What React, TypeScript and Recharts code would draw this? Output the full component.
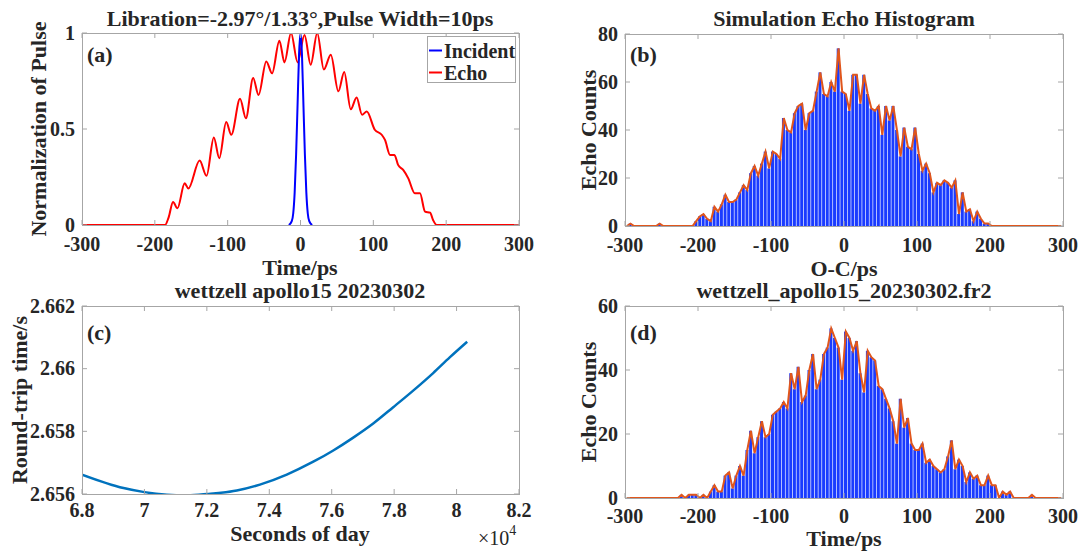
import React from "react";
import { LineChart, Line, ComposedChart, Bar, XAxis, YAxis } from "recharts";

const W = 1080;
const H = 551;
const FONT = '"Liberation Serif", "Times New Roman", serif';
const AXIS = "#a6a6a6";
const INK = "#262626";

// (a) pulse shapes (time in ps, normalised amplitude)
const echoT = [-300, -186, -181, -175, -169, -159, -154, -138.5, -129, -119, -111.5, -102, -95, -83, -75, -65, -57.6, -47, -39, -29, -22, -13, -4, 5.5, 14, 23, 32, 41.6, 52, 60, 69, 77, 84.5, 91, 102, 111.5, 116, 123, 129, 134, 141, 148, 157, 164, 171, 178, 182, 187, 300];
const echoV = [0, 0, 0.04, 0.12, 0.087, 0.217, 0.19, 0.336, 0.256, 0.456, 0.348, 0.536, 0.47, 0.657, 0.556, 0.765, 0.677, 0.852, 0.79, 0.96, 0.847, 1.0, 0.847, 0.99, 0.835, 1.0, 0.81, 0.887, 0.696, 0.797, 0.603, 0.664, 0.574, 0.591, 0.496, 0.47, 0.443, 0.365, 0.365, 0.313, 0.287, 0.243, 0.165, 0.165, 0.07, 0.064, 0.026, 0, 0];
const incT = [-16, -12, -10, -8, -6, -4, -2, 0, 2, 4, 6, 8, 10, 12, 16];
const incV = [0, 0.02, 0.06, 0.17, 0.37, 0.63, 0.89, 1, 0.89, 0.63, 0.37, 0.17, 0.06, 0.02, 0];

const timeTicks = [-300, -200, -100, 0, 100, 200, 300];
const normTicks = [0, 0.5, 1];

// (b) simulated echo histogram, 5 ps bins, first centre at -297.5
const firstBin = -297.5;
const binWidth = 5;
const simCounts = [
  0, 1, 0, 0, 0, 0, 0, 0, 0, 1,
  0, 0, 0, 0, 0, 0, 0, 0, 0, 2,
  4, 5, 3, 2, 8, 6, 9, 13, 10, 10,
  11, 14, 17, 15, 22, 25, 21, 26, 31, 24,
  31, 30, 28, 45, 40, 39, 47, 50, 51, 40,
  47, 48, 56, 64, 55, 54, 60, 56, 74, 56,
  55, 48, 63, 63, 51, 63, 55, 49, 48, 50,
  38, 50, 44, 50, 40, 29, 41, 33, 32, 41,
  30, 23, 26, 22, 14, 18, 17, 19, 18, 16,
  19, 5, 14, 6, 7, 2, 6, 3, 1, 1,
  0, 0, 0, 0, 0, 0, 0, 0, 0, 0,
  0, 0, 0, 0, 0, 0, 0, 0, 0, 0,
];
const simTicks = [0, 20, 40, 60, 80];

// (c) round-trip time vs seconds of day
const sodX = [68000, 69330, 70000, 70720, 71360, 72000, 72960, 73700, 74560, 75410, 76050, 76690, 77330, 77970, 78610, 79250, 79780, 80340];
const rttY = [2.65662, 2.65619, 2.65606, 2.65598, 2.65596, 2.656, 2.65611, 2.6563, 2.65662, 2.65703, 2.65739, 2.6578, 2.65825, 2.65877, 2.6593, 2.65986, 2.66036, 2.66086];
const sodTicks = [68000, 70000, 72000, 74000, 76000, 78000, 80000, 82000];
const rttTicks = [2.656, 2.658, 2.66, 2.662];

// (d) observed histogram, same bins as (b)
const obsCounts = [
  0, 0, 0, 0, 0, 0, 0, 0, 0, 0,
  0, 0, 0, 0, 0, 1, 0, 1, 1, 1,
  0, 1, 0, 2, 4, 2, 2, 7, 8, 3,
  7, 10, 7, 15, 21, 14, 19, 24, 19, 20,
  26, 27, 28, 30, 28, 39, 34, 41, 30, 32,
  40, 45, 34, 37, 45, 47, 53, 50, 47, 37,
  52, 50, 46, 49, 39, 33, 46, 44, 43, 35,
  34, 31, 28, 24, 17, 31, 22, 25, 17, 15,
  15, 17, 11, 12, 10, 9, 8, 9, 13, 18,
  9, 12, 10, 5, 8, 6, 7, 4, 4, 7,
  4, 4, 0, 2, 1, 2, 0, 0, 0, 0,
  0, 1, 0, 0, 0, 0, 0, 0, 0, 0,
];
const obsTicks = [0, 20, 40, 60];

const echoData = echoT.map((x, i) => ({ x, y: echoV[i] }));
const incData = incT.map((x, i) => ({ x, y: incV[i] }));
const binned = (counts: number[]) => counts.map((y, i) => ({ x: firstBin + i * binWidth, y }));
const simData = binned(simCounts);
const obsData = binned(obsCounts);
const rttData = sodX.map((x, i) => ({ x, y: rttY[i] }));

type Box = { left: number; right: number; top: number; bottom: number; lab: number };
const A: Box = { left: 82, right: 519, top: 33, bottom: 225, lab: 25.5 };
const B: Box = { left: 625, right: 1063, top: 34, bottom: 226, lab: 25.5 };
const C: Box = { left: 82, right: 519, top: 306, bottom: 494, lab: 23 };
const D: Box = { left: 625, right: 1063, top: 306, bottom: 498, lab: 25 };

const margin = (b: Box) => ({ left: b.left - 60, top: b.top, right: W - b.right, bottom: H - b.bottom - 30 });

const txt = { fontFamily: FONT, fontWeight: "bold" as const, fill: INK };

const xTick = (b: Box, fmt = (v: number) => String(v)) => (p: any) => (
  <g>
    <line x1={p.x} x2={p.x} y1={b.bottom} y2={b.bottom - 5} stroke={AXIS} />
    <line x1={p.x} x2={p.x} y1={b.top} y2={b.top + 5} stroke={AXIS} />
    <text x={p.x} y={b.bottom + b.lab} textAnchor="middle" fontSize={20} {...txt}>
      {fmt(p.payload.value)}
    </text>
  </g>
);

const yTick = (b: Box) => (p: any) => (
  <g>
    <line x1={b.left} x2={b.left + 5} y1={p.y} y2={p.y} stroke={AXIS} />
    <line x1={b.right} x2={b.right - 5} y1={p.y} y2={p.y} stroke={AXIS} />
    <text x={b.left - 7} y={p.y + 6.5} textAnchor="end" fontSize={20} {...txt}>
      {String(p.payload.value)}
    </text>
  </g>
);

const layer: React.CSSProperties = { position: "absolute", left: 0, top: 0 };

export default function App() {
  const axisCommon = { tickLine: false, axisLine: false, interval: 0 as const, allowDataOverflow: true };
  return (
    <div style={{ position: "absolute", left: 0, top: 0, width: W, height: H, background: "#fff" }}>
      <div style={layer}>
        <LineChart width={W} height={H} margin={margin(A)}>
          <XAxis type="number" dataKey="x" domain={[-300, 300]} ticks={timeTicks} height={30} tick={xTick(A)} {...axisCommon} />
          <YAxis type="number" domain={[0, 1]} ticks={normTicks} width={60} tick={yTick(A)} {...axisCommon} />
          <Line data={echoData} dataKey="y" type="monotone" stroke="#ff0000" strokeWidth={2} dot={false} isAnimationActive={false} />
          <Line data={incData} dataKey="y" type="monotone" stroke="#0000ff" strokeWidth={2} dot={false} isAnimationActive={false} />
        </LineChart>
      </div>
      <div style={layer}>
        <ComposedChart width={W} height={H} margin={margin(B)} data={simData}>
          <XAxis type="number" dataKey="x" domain={[-300, 300]} ticks={timeTicks} height={30} tick={xTick(B)} {...axisCommon} />
          <YAxis type="number" domain={[0, 80]} ticks={simTicks} width={60} tick={yTick(B)} {...axisCommon} />
          <Bar dataKey="y" fill="#1a3bff" barSize={3} isAnimationActive={false} />
          <Line dataKey="y" type="linear" stroke="#e0561c" strokeWidth={2} dot={false} isAnimationActive={false} />
        </ComposedChart>
      </div>
      <div style={layer}>
        <LineChart width={W} height={H} margin={margin(C)} data={rttData}>
          <XAxis type="number" dataKey="x" domain={[68000, 82000]} ticks={sodTicks} height={30} tick={xTick(C, (v) => String(v / 10000))} {...axisCommon} />
          <YAxis type="number" domain={[2.656, 2.662]} ticks={rttTicks} width={60} tick={yTick(C)} {...axisCommon} />
          <Line dataKey="y" type="monotone" stroke="#0072bd" strokeWidth={2.5} dot={false} isAnimationActive={false} />
        </LineChart>
      </div>
      <div style={layer}>
        <ComposedChart width={W} height={H} margin={margin(D)} data={obsData}>
          <XAxis type="number" dataKey="x" domain={[-300, 300]} ticks={timeTicks} height={30} tick={xTick(D)} {...axisCommon} />
          <YAxis type="number" domain={[0, 60]} ticks={obsTicks} width={60} tick={yTick(D)} {...axisCommon} />
          <Bar dataKey="y" fill="#1a3bff" barSize={3} isAnimationActive={false} />
          <Line dataKey="y" type="linear" stroke="#e0561c" strokeWidth={2} dot={false} isAnimationActive={false} />
        </ComposedChart>
      </div>

      <svg width={W} height={H} style={{ ...layer, pointerEvents: "none" }}>
        {[A, B, C, D].map((b, i) => (
          <rect key={i} x={b.left + 0.5} y={b.top + 0.5} width={b.right - b.left} height={b.bottom - b.top} fill="none" stroke={AXIS} />
        ))}

        {/* titles */}
        <text x={300} y={26} textAnchor="middle" fontSize={22} {...txt}>Libration=-2.97°/1.33°,Pulse Width=10ps</text>
        <text x={844} y={26} textAnchor="middle" fontSize={22} {...txt}>Simulation Echo Histogram</text>
        <text x={300} y={298} textAnchor="middle" fontSize={22} {...txt}>wettzell apollo15 20230302</text>
        <text x={844} y={298} textAnchor="middle" fontSize={22} {...txt}>wettzell_apollo15_20230302.fr2</text>

        {/* x labels */}
        <text x={300} y={275} textAnchor="middle" fontSize={22} {...txt}>Time/ps</text>
        <text x={844} y={276} textAnchor="middle" fontSize={22} {...txt}>O-C/ps</text>
        <text x={300} y={541} textAnchor="middle" fontSize={22} {...txt}>Seconds of day</text>
        <text x={844} y={546} textAnchor="middle" fontSize={22} {...txt}>Time/ps</text>
        <text x={478} y={545} fontSize={20} fontFamily={FONT} fill={INK}>
          ×10<tspan dy={-10} fontSize={14}>4</tspan>
        </text>

        {/* y labels */}
        <text transform="translate(46,129) rotate(-90)" textAnchor="middle" fontSize={22} {...txt}>Normalization of Pulse</text>
        <text transform="translate(596,130) rotate(-90)" textAnchor="middle" fontSize={22} {...txt}>Echo Counts</text>
        <text transform="translate(27,400) rotate(-90)" textAnchor="middle" fontSize={22} {...txt}>Round-trip time/s</text>
        <text transform="translate(596,402) rotate(-90)" textAnchor="middle" fontSize={22} {...txt}>Echo Counts</text>

        {/* panel tags */}
        <text x={87} y={62} fontSize={22} {...txt}>(a)</text>
        <text x={630} y={62} fontSize={22} {...txt}>(b)</text>
        <text x={87} y={340} fontSize={22} {...txt}>(c)</text>
        <text x={630} y={340} fontSize={22} {...txt}>(d)</text>

        {/* legend of (a) */}
        <rect x={427.5} y={36.5} width={88} height={46} fill="#fff" stroke={AXIS} />
        <line x1={429} x2={442} y1={50.5} y2={50.5} stroke="#0000ff" strokeWidth={2} />
        <line x1={429} x2={442} y1={72.5} y2={72.5} stroke="#ff0000" strokeWidth={2} />
        <text x={444} y={57.5} fontSize={20} {...txt}>Incident</text>
        <text x={444} y={79.5} fontSize={20} {...txt}>Echo</text>
      </svg>
    </div>
  );
}
